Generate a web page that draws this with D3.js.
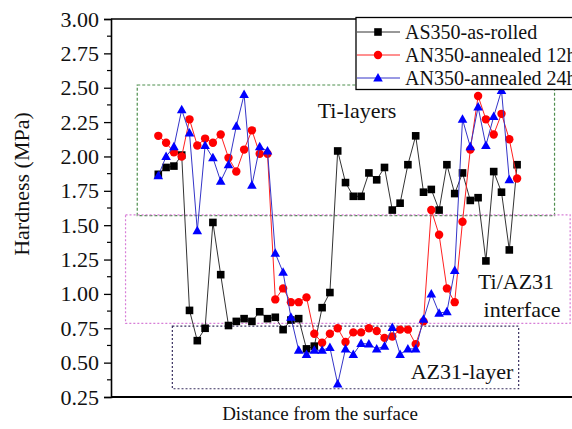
<!DOCTYPE html>
<html><head><meta charset="utf-8">
<script src="https://cdn.jsdelivr.net/npm/d3@7/dist/d3.min.js"></script>
<style>html,body{margin:0;padding:0;background:#fff;overflow:hidden}</style>
</head><body><svg id="c" width="572" height="429"></svg>
<script>
const seriesNames = ["AS350-as-rolled", "AN350-annealed 12h", "AN350-annealed 24h"];
const asRolled = [1.87,1.92,1.93,2.01,0.88,0.66,0.75,1.52,1.14,0.77,0.80,0.82,0.80,0.87,0.82,0.83,0.74,0.81,0.82,0.60,0.62,0.90,1.01,2.04,1.81,1.71,1.71,1.88,1.83,1.92,1.61,1.66,1.94,2.15,1.74,1.76,1.61,1.94,1.73,1.88,1.68,1.70,1.24,1.89,1.74,1.32,1.94];
const annealed12h = [2.15,2.10,2.03,2.00,2.27,2.08,2.13,2.10,2.16,1.99,1.89,2.05,2.19,2.02,2.02,0.96,1.04,0.94,0.94,0.975,0.71,0.645,0.71,0.75,0.65,0.72,0.72,0.75,0.73,0.68,0.69,0.74,0.74,0.635,0.80,1.61,1.43,1.04,0.94,1.525,2.05,2.44,2.27,2.16,2.31,2.125,1.84];
const annealed24h = [1.86,2.00,2.07,2.34,2.17,1.46,2.08,1.99,1.82,1.94,2.22,2.45,1.79,2.07,2.04,1.295,1.157,0.83,0.59,0.56,0.59,0.59,0.61,0.345,0.60,0.56,0.64,0.635,0.60,0.62,0.755,0.56,0.60,0.60,0.815,1.00,0.86,0.87,1.17,2.27,2.07,2.36,2.08,2.29,2.48,1.83];
const yTicks = [0.25,0.50,0.75,1.00,1.25,1.50,1.75,2.00,2.25,2.50,2.75,3.00];
const regions = [
  {label:["Ti-layers"], x0:-2.7, x1:50.8, y0:1.57, y1:2.52},
  {label:["Ti/AZ31","interface"], x0:-4.2, x1:52.8, y0:0.785, y1:1.575},
  {label:["AZ31-layer"], x0:1.8, x1:46.2, y0:0.31, y1:0.765}
];
const xAxisTitle = "Distance from the surface";
const yAxisTitle = "Hardness (MPa)";

const font = "'Liberation Serif','Times New Roman',serif";
const svg = d3.select("#c");
const L = 111, T = 19, B = 397, R = 600;
const x = d3.scaleLinear().domain([0, 46]).range([158.3, 517.1]);
const y = d3.scaleLinear().domain([0.25, 3.0]).range([B, T]);

// region boxes
const regStyle = [
  {stroke:"#4f8f4f", dash:"3,2"},
  {stroke:"#d77ed7", dash:"2,2"},
  {stroke:"#3a3060", dash:"2,2"}
];
regions.forEach((r,i)=>{
  svg.append("rect").attr("x",x(r.x0)).attr("y",y(r.y1))
    .attr("width",x(r.x1)-x(r.x0)).attr("height",y(r.y0)-y(r.y1))
    .attr("fill","none").attr("stroke",regStyle[i].stroke)
    .attr("stroke-width",1.2).attr("stroke-dasharray",regStyle[i].dash);
});
// region labels
const regLabelPos = [
  {x:357, y:[118], anchor:"middle"},
  {x:516, y:[289,317], anchor:"middle"},
  {x:462, y:[379], anchor:"middle"}
];
regions.forEach((r,i)=>{
  r.label.forEach((t,j)=>{
    svg.append("text").attr("x", regLabelPos[i].x + (j==1?6:0)).attr("y",regLabelPos[i].y[j])
      .attr("text-anchor",regLabelPos[i].anchor).attr("font-family",font)
      .attr("font-size",22).attr("fill","#111").text(t);
  });
});

// frame
svg.append("line").attr("x1",L).attr("x2",R).attr("y1",T).attr("y2",T).attr("stroke","#000").attr("stroke-width",1.6);
svg.append("line").attr("x1",L).attr("x2",R).attr("y1",B).attr("y2",B).attr("stroke","#000").attr("stroke-width",1.8);

// y axis
const yAxis = d3.axisLeft(y).tickValues(yTicks).tickFormat(d3.format(".2f")).tickSize(7).tickPadding(5);
const gy = svg.append("g").attr("transform",`translate(${L},0)`).call(yAxis);
gy.select(".domain").attr("stroke-width",1.6);
gy.selectAll(".tick line").attr("stroke-width",1.3);
gy.selectAll("text").attr("font-family",font).attr("font-size",22).attr("fill","#111");
const minor = yTicks.slice(0,-1).map(v=>v+0.125);
svg.append("g").selectAll("line").data(minor).join("line")
  .attr("x1",L-4).attr("x2",L).attr("y1",d=>y(d)).attr("y2",d=>y(d))
  .attr("stroke","#000").attr("stroke-width",1.2);

// titles
svg.append("text").attr("transform",`translate(29,184) rotate(-90)`)
  .attr("text-anchor","middle").attr("font-family",font).attr("font-size",22).attr("fill","#111").text(yAxisTitle);
svg.append("text").attr("x",320).attr("y",420).attr("text-anchor","middle")
  .attr("font-family",font).attr("font-size",19).attr("fill","#111").text(xAxisTitle);

// series
const series = [
  {name:seriesNames[0], data:asRolled, line:"#333", fill:"#000", shape:"square"},
  {name:seriesNames[1], data:annealed12h, line:"#ff2020", fill:"#ff0000", shape:"circle"},
  {name:seriesNames[2], data:annealed24h, line:"#3535c8", fill:"#0000ff", shape:"triangle"}
];
function drawMarker(g, shape, cx, cy, fill){
  if(shape==="square") g.append("rect").attr("x",cx-3.8).attr("y",cy-3.8).attr("width",7.6).attr("height",7.6).attr("fill",fill);
  else if(shape==="circle") g.append("circle").attr("cx",cx).attr("cy",cy).attr("r",4.2).attr("fill",fill);
  else g.append("path").attr("d",`M${cx},${cy-5}L${cx+4.8},${cy+3.5}L${cx-4.8},${cy+3.5}Z`).attr("fill",fill);
}
const line = d3.line().x((d,i)=>x(i)).y(d=>y(d));
series.forEach(s=>{
  const g = svg.append("g");
  g.append("path").attr("d",line(s.data)).attr("fill","none").attr("stroke",s.line).attr("stroke-width",1);
  s.data.forEach((v,i)=>drawMarker(g,s.shape,x(i),y(v),s.fill));
});

// legend
const lg = svg.append("g");
lg.append("rect").attr("x",356).attr("y",17.5).attr("width",260).attr("height",72).attr("fill","#fff").attr("stroke","#000").attr("stroke-width",1.3);
const legY = [32, 55, 78];
series.forEach((s,i)=>{
  lg.append("line").attr("x1",357).attr("x2",400).attr("y1",legY[i]).attr("y2",legY[i]).attr("stroke",s.line).attr("stroke-width",1);
  drawMarker(lg,s.shape,378,legY[i],s.fill);
  lg.append("text").attr("x",405).attr("y",legY[i]+7).attr("font-family",font).attr("font-size",20).attr("fill","#111").text(s.name);
});
</script></body></html>
